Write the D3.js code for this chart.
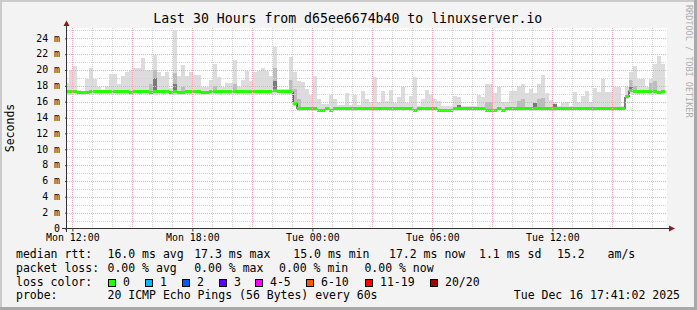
<!DOCTYPE html>
<html>
<head>
<meta charset="utf-8">
<script src="https://cdn.jsdelivr.net/npm/d3@7"></script>
<style>
  body { margin: 0; background: #f3f3f3; }
  svg { display: block; font-family: "DejaVu Sans Mono", monospace; }
</style>
</head>
<body>
<script>
// time window and 12 minute smoke bins
var viewStart = new Date(2025, 11, 15, 11, 44),
    viewEnd = new Date(2025, 11, 16, 17, 44),
    binStart = new Date(2025, 11, 15, 11, 38),
    binMinutes = 12;

// median rtt per bin (ms)
var median = [
  17.25, 17.25, 17.25, 17.1, 17.1, 17.2, 17.25, 17.25, 17.25, 17.25,
  17.25, 17.25, 17.25, 17.25, 17.25, 17.25, 17.1, 17.25, 17.25, 17.25,
  17.25, 17.2, 17.25, 17.25, 17.25, 17.25, 17.1, 17.25, 17.2, 17.1,
  17.25, 17.25, 17.25, 17.25, 17.2, 17.2, 17.25, 17.25, 17.25, 17.25,
  17.25, 17.25, 17.25, 17.25, 17.25, 17.25, 17.25, 17.25, 17.25, 17.25,
  17.25, 17.25, 17.45, 17.3, 17.25, 17.25, 17.25, 15.8, 15.1, 15.1,
  15.1, 15.1, 15.1, 14.95, 14.95, 15.1, 14.95, 15.1, 15.1, 15.1,
  15.1, 15.1, 15.1, 15.1, 15.1, 15.1, 15.1, 15.1, 15.1, 15.2,
  15.1, 15.1, 15.1, 15.1, 15.1, 15.1, 15.1, 14.95, 15.1, 15.1,
  15.1, 15.1, 15.1, 14.95, 14.95, 14.95, 14.95, 15.1, 15.1, 15.1,
  15.1, 15.1, 15.1, 15.1, 15.1, 14.95, 14.95, 14.95, 15.1, 14.95,
  15.1, 15.1, 15.1, 15.1, 15.1, 15.1, 15.1, 15.1, 15.1, 15.1,
  15.1, 15.1, 15.1, 15.1, 15.1, 15.1, 15.1, 15.2, 15.2, 15.2,
  15.1, 15.1, 15.1, 15.2, 15.1, 15.1, 15.1, 15.1, 15.1, 15.1,
  16.6, 17.4, 17.3, 17.3, 17.3, 17.3, 17.3, 17.3, 17.15, 17.25
];

// slowest ping per bin (ms)
var hi = [
  18.4, 20.0, 20.5, 17.5, 17.4, 18.9, 20.2, 18.9, 17.9, 17.4,
  18.0, 19.5, 19.5, 18.2, 19.2, 19.7, 19.9, 20.2, 20.2, 21.5,
  20.0, 20.0, 21.9, 19.7, 19.2, 19.8, 17.7, 25.0, 19.2, 20.6,
  19.2, 19.8, 19.4, 19.4, 17.9, 17.9, 18.7, 20.8, 19.1, 17.9,
  18.4, 18.4, 21.3, 17.9, 18.7, 19.9, 18.6, 19.7, 19.9, 20.2,
  19.9, 19.2, 22.9, 17.6, 17.6, 17.6, 21.7, 19.8, 18.6, 18.5,
  17.6, 16.9, 19.3, 16.4, 15.7, 15.7, 16.8, 16.4, 15.6, 15.6,
  17.1, 15.6, 16.9, 15.6, 17.4, 16.3, 16.0, 19.1, 16.0, 17.4,
  16.1, 17.5, 15.8, 16.6, 17.8, 15.8, 16.7, 19.1, 15.4, 16.3,
  17.5, 16.9, 16.3, 16.1, 15.4, 15.4, 15.4, 16.7, 16.6, 15.4,
  15.5, 15.4, 15.5, 16.9, 16.6, 18.2, 18.2, 17.1, 17.8, 15.9,
  15.9, 17.4, 17.3, 18.0, 18.2, 17.1, 17.6, 17.1, 18.2, 19.4,
  17.1, 16.2, 15.9, 15.5, 15.8, 15.9, 15.4, 17.2, 16.0, 16.7,
  17.3, 16.0, 17.7, 17.2, 18.9, 17.2, 17.2, 17.9, 17.9, 15.4,
  17.9, 19.7, 20.5, 18.9, 18.9, 17.9, 18.9, 20.8, 21.8, 20.8
];

// fastest ping per bin (ms)
var lo = [
  16.8, 16.85, 16.95, 16.95, 16.9, 16.95, 16.95, 16.95, 17.0, 17.0,
  16.95, 16.95, 17.0, 16.95, 16.95, 16.95, 16.9, 17.0, 16.95, 16.95,
  16.95, 16.8, 16.8, 16.95, 16.95, 16.95, 16.9, 16.85, 16.85, 16.85,
  16.95, 16.95, 17.0, 16.95, 16.9, 16.9, 16.95, 16.95, 16.85, 17.0,
  16.95, 16.95, 16.95, 17.0, 16.95, 16.85, 16.95, 16.85, 16.95, 16.95,
  16.95, 16.95, 17.0, 17.05, 17.0, 17.0, 16.95, 15.5, 14.8, 14.85,
  14.9, 14.9, 14.85, 14.8, 14.8, 14.9, 14.8, 14.85, 14.9, 14.9,
  14.85, 14.9, 14.85, 14.9, 14.85, 14.9, 14.85, 14.8, 14.9, 14.9,
  14.9, 14.85, 14.9, 14.9, 14.85, 14.9, 14.85, 14.75, 14.9, 14.9,
  14.85, 14.9, 14.9, 14.8, 14.8, 14.8, 14.8, 14.85, 14.85, 14.9,
  14.9, 14.9, 14.9, 14.85, 14.9, 14.8, 14.75, 14.8, 14.9, 14.8,
  14.9, 14.85, 14.9, 14.85, 14.85, 14.9, 14.85, 14.85, 14.9, 14.85,
  14.9, 14.85, 14.85, 14.9, 14.9, 14.85, 14.9, 14.95, 14.95, 14.95,
  14.9, 14.9, 14.85, 14.95, 14.9, 14.9, 14.85, 14.9, 14.9, 14.9,
  16.3, 17.0, 17.0, 17.0, 17.0, 17.05, 16.95, 17.0, 16.9, 17.0
];

// bins where the inner pings spread out (mid grey smoke)
var midBins = [21, 22, 27, 29, 37, 42, 52, 56, 57, 58, 105, 106, 113, 114, 118, 119, 141, 142, 146, 147];
var midTop  = [18.2, 20.0, 19.6, 17.9, 18.0, 18.2, 20.2, 18.8, 17.6, 16.4, 16.0, 16.0, 16.1, 16.3, 16.3, 16.5, 18.8, 18.0, 18.3, 18.6];

// bins with a dense core of pings (dark smoke)
var darkBins = [22, 27, 52, 98, 117, 122, 141];
var darkTop  = [19.0, 18.2, 18.6, 15.6, 15.8, 15.7, 17.9];

var yTicks = [0, 2, 4, 6, 8, 10, 12, 14, 16, 18, 20, 22, 24];

var title = "Last 30 Hours from d65ee6674b40 to linuxserver.io";
var rttLegend = ["median rtt:", "16.0 ms avg", "17.3 ms max", "15.0 ms min", "17.2 ms now", "1.1 ms sd", "15.2", "am/s"];
var lossLegend = ["packet loss:", "0.00 % avg", "0.00 % max", "0.00 % min", "0.00 % now"];
var lossLabels = ["0", "1", "2", "3", "4-5", "6-10", "11-19", "20/20"];
var lossColors = ["#26ff00", "#00b8ff", "#0059ff", "#5e00ff", "#ff00ff", "#ff5500", "#ff0000", "#a10000"];
var probeLegend = ["probe:", "20 ICMP Echo Pings (56 Bytes) every 60s"];
var stamp = "Tue Dec 16 17:41:02 2025";

// ---- layout ----
var W = 697, H = 310;
var plot = {left: 67, right: 667, top: 28, bottom: 228.5};

var svg = d3.select("body").append("svg")
    .attr("width", W)
    .attr("height", H);

// frame
svg.append("rect").attr("width", W).attr("height", H).attr("fill", "#f3f3f3");
svg.append("path").attr("d", "M0,0H697V2H2V310H0Z").attr("fill", "#cbcbcb");
svg.append("path").attr("d", "M697,0V310H0V307H694V0Z").attr("fill", "#a9a9a9");

// canvas
svg.append("rect")
    .attr("x", plot.left).attr("y", plot.top)
    .attr("width", plot.right - plot.left).attr("height", plot.bottom - plot.top)
    .attr("fill", "#ffffff");

// scales
var x = d3.scaleTime().domain([viewStart, viewEnd]).range([plot.left, plot.right]);
var y = d3.scaleLinear().domain([0, 25.3]).range([plot.bottom, plot.top]);

function binTime(i) { return d3.timeMinute.offset(binStart, i * binMinutes); }

svg.append("clipPath").attr("id", "clip")
  .append("rect")
    .attr("x", plot.left).attr("y", plot.top)
    .attr("width", plot.right - plot.left).attr("height", plot.bottom - plot.top);

var g = svg.append("g").attr("clip-path", "url(#clip)");

// smoke: full spread
g.append("g").selectAll("rect")
    .data(hi)
  .enter().append("rect")
    .attr("x", function(d, i) { return x(binTime(i)); })
    .attr("width", function(d, i) { return x(binTime(i + 1)) - x(binTime(i)); })
    .attr("y", function(d) { return y(d); })
    .attr("height", function(d, i) { return y(lo[i]) - y(d); })
    .attr("fill", "#dcdcdc")
    .attr("shape-rendering", "crispEdges");

// smoke: inner spread
g.append("g").selectAll("rect")
    .data(midBins)
  .enter().append("rect")
    .attr("x", function(b) { return x(binTime(b)); })
    .attr("width", function(b) { return x(binTime(b + 1)) - x(binTime(b)); })
    .attr("y", function(b, k) { return y(midTop[k]); })
    .attr("height", function(b, k) { return y(median[b]) - y(midTop[k]); })
    .attr("fill", "#bcbcbc")
    .attr("shape-rendering", "crispEdges");

// smoke: dense core
g.append("g").selectAll("rect")
    .data(darkBins)
  .enter().append("rect")
    .attr("x", function(b) { return x(binTime(b)); })
    .attr("width", function(b) { return x(binTime(b + 1)) - x(binTime(b)); })
    .attr("y", function(b, k) { return y(darkTop[k]); })
    .attr("height", function(b, k) { return y(median[b]) - y(darkTop[k]); })
    .attr("fill", "#7a7a7a")
    .attr("shape-rendering", "crispEdges");

// grid, dotted like rrdtool
var grid = svg.append("g").attr("shape-rendering", "crispEdges");
var hours = d3.timeHour.every(1).range(viewStart, viewEnd);
grid.selectAll(".vgrid")
    .data(hours)
  .enter().append("line")
    .attr("x1", function(d) { return Math.round(x(d)) + 0.5; })
    .attr("x2", function(d) { return Math.round(x(d)) + 0.5; })
    .attr("y1", plot.top).attr("y2", plot.bottom)
    .attr("stroke", function(d) { return d.getHours() % 3 === 0 ? "#f7a9a9" : "#d4d4d4"; })
    .attr("stroke-dasharray", "1,1");

grid.selectAll(".hgrid")
    .data(d3.range(1, 26))
  .enter().append("line")
    .attr("x1", plot.left).attr("x2", plot.right)
    .attr("y1", function(d) { return Math.round(y(d)) + 0.5; })
    .attr("y2", function(d) { return Math.round(y(d)) + 0.5; })
    .attr("stroke", function(d) { return d % 2 === 0 ? "#f7a9a9" : "#d4d4d4"; })
    .attr("stroke-dasharray", "1,1");

// median: black step line under the loss coloured band
var steps = median.map(function(d, i) { return [binTime(i), d]; });
steps.push([binTime(median.length), median[median.length - 1]]);
g.append("path")
    .datum(steps)
    .attr("fill", "none")
    .attr("stroke", "#000")
    .attr("stroke-width", 1)
    .attr("d", d3.line()
        .x(function(d) { return x(d[0]); })
        .y(function(d) { return y(d[1]); })
        .curve(d3.curveStepAfter));

g.append("g").selectAll("rect")
    .data(median)
  .enter().append("rect")
    .attr("x", function(d, i) { return x(binTime(i)); })
    .attr("width", function(d, i) { return x(binTime(i + 1)) - x(binTime(i)); })
    .attr("y", function(d) { return y(d) - 1.5; })
    .attr("height", 3)
    .attr("fill", lossColors[0])
    .attr("shape-rendering", "crispEdges");

// axes
var yAxis = svg.append("g")
    .attr("transform", "translate(" + plot.left + ",0)")
    .call(d3.axisLeft(y)
        .tickValues(yTicks)
        .tickSize(2)
        .tickPadding(5)
        .tickFormat(function(d) { return d === 0 ? "0" : d + " m"; }));
yAxis.select(".domain").remove();
yAxis.selectAll(".tick text").attr("dy", "0.28em");

var xAxis = svg.append("g")
    .attr("transform", "translate(0," + plot.bottom + ")")
    .call(d3.axisBottom(x)
        .ticks(d3.timeHour.every(6))
        .tickSize(3)
        .tickPadding(2.6)
        .tickFormat(d3.timeFormat("%a %H:%M")));
xAxis.select(".domain").remove();

svg.selectAll(".tick text")
    .attr("font-family", "DejaVu Sans Mono")
    .attr("font-size", 9.9)
    .attr("fill", "#000");
svg.selectAll(".tick line").attr("stroke", "#444");

// axis lines and arrows
svg.append("line")
    .attr("x1", plot.left - 5).attr("x2", 670)
    .attr("y1", plot.bottom).attr("y2", plot.bottom)
    .attr("stroke", "#333").attr("shape-rendering", "crispEdges");
svg.append("line")
    .attr("x1", plot.left - 0.5).attr("x2", plot.left - 0.5)
    .attr("y1", plot.bottom + 3).attr("y2", 25)
    .attr("stroke", "#333").attr("shape-rendering", "crispEdges");
svg.append("path").attr("d", "M63.5,26L66.5,20.5L69.5,26Z").attr("fill", "#8b1a1a");
svg.append("path").attr("d", "M669,225.5L675,228.5L669,231.5Z").attr("fill", "#8b1a1a");

// titles
svg.append("text")
    .attr("x", 347.8).attr("y", 23.3)
    .attr("text-anchor", "middle")
    .attr("font-size", 13.2)
    .text(title);

svg.append("text")
    .attr("transform", "translate(14,128) rotate(-90)")
    .attr("text-anchor", "middle")
    .attr("font-size", 11.5)
    .text("Seconds");

svg.append("text")
    .attr("transform", "translate(686,5) rotate(90)")
    .attr("font-size", 8.5)
    .attr("fill", "#adadad")
    .text("RRDTOOL / TOBI OETIKER");

// legend
var rowY = [258.2, 271.8, 285.6, 299.2];
var legend = svg.append("g").attr("font-size", 11.5).attr("fill", "#000");

var rttX = [16, 107.5, 194.2, 293.3, 389, 479, 557, 607.6];
rttLegend.forEach(function(t, i) {
  legend.append("text").attr("x", rttX[i]).attr("y", rowY[0]).text(t);
});

var lossX = [16, 107.5, 194.2, 279, 364.4];
lossLegend.forEach(function(t, i) {
  legend.append("text").attr("x", lossX[i]).attr("y", rowY[1]).text(t);
});

legend.append("text").attr("x", 16).attr("y", rowY[2]).text("loss color:");
var boxX = [108.5, 145.5, 182.5, 219.5, 255.5, 306.5, 365.5, 430.5];
lossLabels.forEach(function(t, i) {
  legend.append("rect")
      .attr("x", boxX[i]).attr("y", 279.5)
      .attr("width", 7).attr("height", 7)
      .attr("fill", lossColors[i])
      .attr("stroke", "#000").attr("stroke-width", 1);
  legend.append("text").attr("x", boxX[i] + 14.5).attr("y", rowY[2]).text(t);
});

legend.append("text").attr("x", 16).attr("y", rowY[3]).text(probeLegend[0]);
legend.append("text").attr("x", 107.5).attr("y", rowY[3]).text(probeLegend[1]);
legend.append("text").attr("x", 680).attr("y", rowY[3]).attr("text-anchor", "end").text(stamp);
</script>
</body>
</html>
